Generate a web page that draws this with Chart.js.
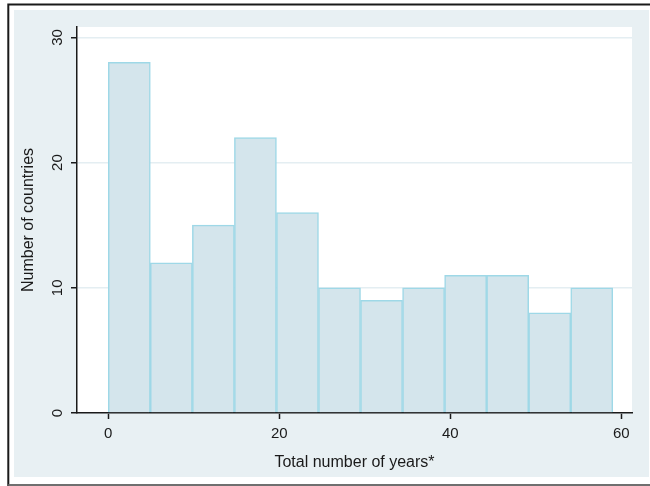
<!DOCTYPE html>
<html>
<head>
<meta charset="utf-8">
<script src="https://cdn.jsdelivr.net/npm/chart.js@4"></script>
<style>
  html, body { margin: 0; padding: 0; background: #ffffff; }
  canvas { display: block; }
</style>
</head>
<body>
<canvas id="hist" width="650" height="486"></canvas>
<script>
// Histogram: number of countries by total number of years (12 bins over 0-59)
const binCentres = [2.458, 7.375, 12.292, 17.208, 22.125, 27.042, 31.958, 36.875, 41.792, 46.708, 51.625, 56.542];
const countryCounts = [28, 12, 15, 22, 16, 10, 9, 10, 11, 11, 8, 10];
const xTickValues = [0, 20, 40, 60];
const yTickValues = [0, 10, 20, 30];
const xTitle = 'Total number of years*';
const yTitle = 'Number of countries';

const FONT = "'Liberation Sans', Arial, Helvetica, sans-serif";
const INK = '#1a1a1a';
Chart.defaults.font.family = FONT;

// Panel background, white plot region and outer frame
const frame = {
  id: 'frame',
  beforeDraw(chart) {
    const { ctx, chartArea: a } = chart;
    ctx.save();
    ctx.fillStyle = '#ffffff';
    ctx.fillRect(0, 0, chart.width, chart.height);
    ctx.fillStyle = '#e8f0f3';
    ctx.fillRect(14, 10, 635, 467);
    ctx.fillStyle = '#ffffff';
    ctx.fillRect(a.left, a.top, a.right - a.left, a.bottom - a.top);
    ctx.lineWidth = 2;
    ctx.strokeStyle = '#1a1a1a';
    ctx.beginPath();
    ctx.moveTo(8.3, 486); ctx.lineTo(8.3, 4.5); ctx.lineTo(650, 4.5);
    ctx.stroke();
    ctx.strokeStyle = '#6f6f6f';
    ctx.beginPath();
    ctx.moveTo(8.3, 485); ctx.lineTo(650, 485);
    ctx.stroke();
    ctx.restore();
  }
};

new Chart(document.getElementById('hist'), {
  type: 'bar',
  data: {
    datasets: [{
      data: binCentres.map((x, i) => ({ x: x, y: countryCounts[i] })),
      backgroundColor: '#d4e5ec',
      borderColor: '#9ed8e7',
      borderWidth: 1.5,
      borderSkipped: 'start',
      barPercentage: 1,
      categoryPercentage: 1
    }]
  },
  options: {
    responsive: false,
    animation: false,
    devicePixelRatio: 1,
    layout: { padding: { top: 27, right: 18, left: 0, bottom: 0 } },
    plugins: { legend: { display: false }, tooltip: { enabled: false } },
    scales: {
      x: {
        type: 'linear',
        min: -3.66,
        max: 61.25,
        offset: false,
        afterBuildTicks: s => { s.ticks = xTickValues.map(v => ({ value: v })); },
        afterFit: s => { s.height = 73; },
        grid: { offset: false, drawOnChartArea: false, drawTicks: true, tickLength: 6, tickColor: INK, tickWidth: 1.5 },
        border: { color: INK, width: 1.5 },
        ticks: { color: INK, font: { size: 15 }, padding: 6, minRotation: 0, maxRotation: 0 },
        title: { display: true, text: xTitle, color: INK, font: { size: 16 }, padding: { top: 0, bottom: 14 } }
      },
      y: {
        type: 'linear',
        min: 0,
        max: 30.83,
        afterBuildTicks: s => { s.ticks = yTickValues.map(v => ({ value: v })); },
        afterFit: s => { s.width = 77; },
        grid: { color: '#e4eef2', lineWidth: 1.5, drawTicks: true, tickLength: 6, tickColor: INK, tickWidth: 1.5 },
        border: { color: INK, width: 1.5 },
        ticks: { color: INK, font: { size: 15 }, padding: 5, minRotation: 90, maxRotation: 90, crossAlign: 'center' },
        title: { display: true, text: yTitle, color: INK, font: { size: 16 }, padding: { top: 19, bottom: 0 } }
      }
    }
  },
  plugins: [frame]
});
</script>
</body>
</html>
